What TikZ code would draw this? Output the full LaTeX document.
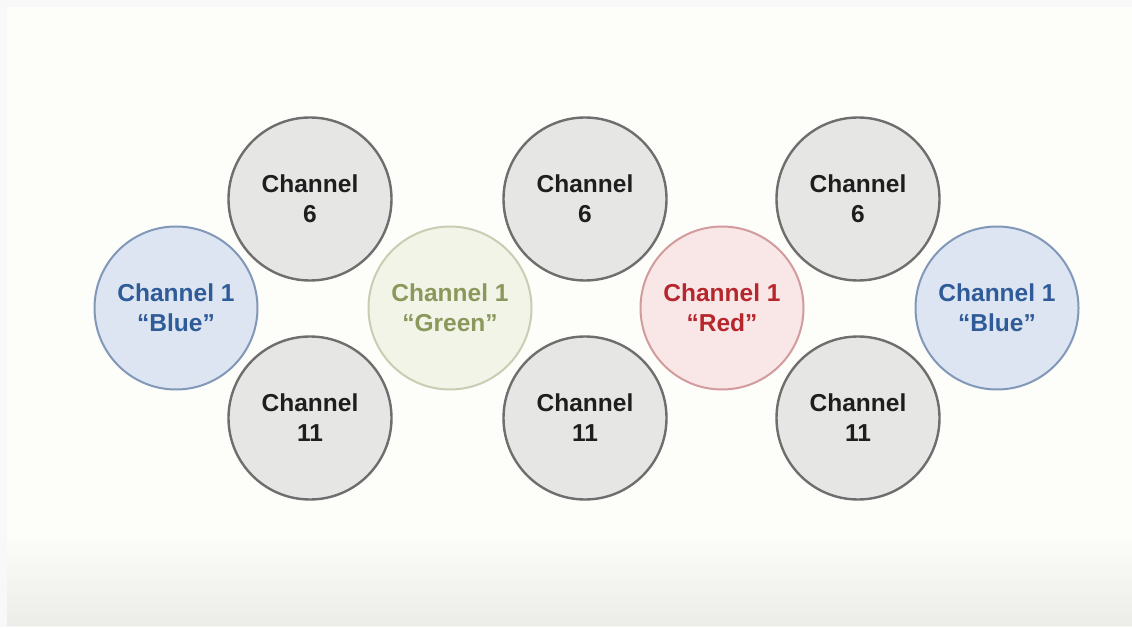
\documentclass[tikz,border=0pt]{standalone}
\usepackage{fontspec}
\setmainfont{Liberation Sans}
\definecolor{pagebg}{HTML}{FDFDF9}
\definecolor{outerbg}{HTML}{F8F8F8}
\definecolor{floorbg}{HTML}{ECECE8}
\definecolor{grayfill}{HTML}{E6E6E5}
\definecolor{grayline}{HTML}{6E6E6E}
\definecolor{graytext}{HTML}{1E1E1E}
\definecolor{bluefill}{HTML}{DCE5F1}
\definecolor{blueline}{HTML}{8198B8}
\definecolor{bluetext}{HTML}{2F5B98}
\definecolor{greenfill}{HTML}{F1F4E6}
\definecolor{greenline}{HTML}{C9CDB3}
\definecolor{greentext}{HTML}{8A985C}
\definecolor{redfill}{HTML}{F9E6E7}
\definecolor{redline}{HTML}{D29B9D}
\definecolor{redtext}{HTML}{B5272D}
\tikzset{
  x=1pt, y=1pt,
  chan/.style={circle, minimum size=163pt, inner sep=0pt, align=center,
    font=\fontsize{24.5}{30}\selectfont\bfseries},
  grayc/.style={chan, draw=grayline, line width=2.4pt, fill=grayfill, text=graytext},
  bluec/.style={chan, draw=blueline, line width=2pt, fill=bluefill, text=bluetext},
  greenc/.style={chan, draw=greenline, line width=2pt, fill=greenfill, text=greentext},
  redc/.style={chan, draw=redline, line width=2pt, fill=redfill, text=redtext},
}
\begin{document}
\begin{tikzpicture}
% page and slide background
\fill[outerbg] (0,0) rectangle (1132,627);
\fill[pagebg] (7,2) rectangle (1132,620);
\shade[top color=pagebg, bottom color=floorbg] (7,2) rectangle (1132,95);
\useasboundingbox (0,0) rectangle (1132,627);

% channel 6 row
\node[grayc] (t1) at (310,428) {Channel\\6};
\node[grayc] (t2) at (585,428) {Channel\\6};
\node[grayc] (t3) at (858,428) {Channel\\6};
% channel 11 row
\node[grayc] (b1) at (310,209) {Channel\\11};
\node[grayc] (b2) at (585,209) {Channel\\11};
\node[grayc] (b3) at (858,209) {Channel\\11};
% channel 1 cells
\node[bluec]  (c1) at (176,319) {Channel 1\\“Blue”};
\node[greenc] (c2) at (450,319) {Channel 1\\“Green”};
\node[redc]   (c3) at (722,319) {Channel 1\\“Red”};
\node[bluec]  (c4) at (997,319) {Channel 1\\“Blue”};
\end{tikzpicture}
\end{document}
